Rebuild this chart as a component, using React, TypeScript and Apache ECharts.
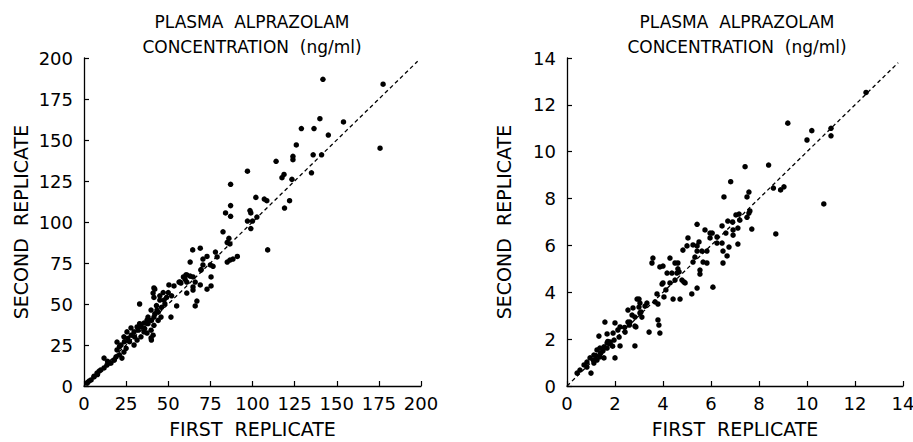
import React, { useEffect, useRef } from "react";
import * as echarts from "echarts";

const titleLines = ["PLASMA  ALPRAZOLAM", "CONCENTRATION  (ng/ml)"];
const xName = "FIRST  REPLICATE";
const yName = "SECOND  REPLICATE";

const leftRange = { min: 0, max: 200, interval: 25 };
const rightRange = { min: 0, max: 14, interval: 2 };

const leftIdentity = [[0, 0], [198, 198]];
const rightIdentity = [[0, 0], [13.8, 13.8]];

const leftPoints = [
  [141.8, 187], [177.5, 184], [175.7, 145], [154, 161], [140, 163], [129, 157], [136.5, 157], [145, 153],
  [126, 147], [124, 140], [124, 138], [136, 141], [141, 141], [114, 137], [97, 131], [118.7, 129],
  [117.5, 127], [123.4, 126], [135, 130], [87, 123],
  [102, 115], [107, 114], [108.5, 113], [122, 113], [119, 108.5], [87, 110], [84, 105.5], [87, 103.5],
  [98.5, 107], [99, 105.5], [102.6, 103], [97, 100.6], [100, 100.6], [99, 96], [82.5, 94], [86, 90],
  [86.6, 86.6], [85, 87.5], [109, 83],
  [64.5, 83], [69, 84], [78, 81.7], [79, 78.7], [73, 79], [70.6, 77.4], [63, 75.6], [70.6, 73.8], [75, 73.8],
  [76.6, 73], [85, 75.6], [88.4, 77.4], [91, 79], [86.6, 76.8],
  [59, 66.5], [61, 67.7], [63, 67], [64.7, 66.5], [75.4, 66.5], [57, 63.4], [61, 63.4], [66, 63.4],
  [64.7, 60.4], [69, 61.6], [61, 56.7], [64.7, 58.5], [73, 59], [69.5, 71],
  [50.4, 61.6], [56.4, 63.4], [60, 65], [67, 51.8], [66, 48.8], [42, 59], [41, 56.7], [33, 50], [55, 48.8],
  [51.6, 42], [45, 52.4], [49, 54],
  [60.5, 67.7], [69.4, 70.7], [75.4, 61], [53.4, 61], [57.5, 62.8], [41.5, 59.8], [41.5, 54], [47.5, 52.4],
  [39.8, 46.3], [43.3, 46.3], [45.7, 42], [41.5, 42], [37.4, 40.2], [35.6, 38.4], [31.5, 36], [27.9, 35.4],
  [25.5, 33], [29.7, 33], [35.6, 33], [37.4, 32.3], [39.8, 29.3], [23.7, 30], [19.6, 26.8], [22, 25],
  [31.5, 28], [33.8, 30], [29.7, 25], [19.6, 22], [23.7, 20.7], [19, 17.7], [22.5, 17], [11.9, 17],
  [13.6, 12.8], [11.9, 11], [10, 9.8], [7.7, 7.9], [5.9, 5.5], [4.2, 3.7], [1.8, 1.8], [16, 14],
  [17.8, 15.8], [39.8, 34], [41.5, 37],
  [21, 24], [24, 27], [26, 29], [28, 31], [30, 30], [32, 34], [34, 36], [36, 35], [38, 38], [40, 40],
  [42, 44], [44, 45], [46, 48], [48, 50], [43, 49], [45, 55], [47, 57], [50, 57], [52, 55], [44, 40],
  [38, 42], [33, 38], [27, 27], [25, 23], [21, 19], [18, 16], [15, 14], [14, 15], [9, 9], [8, 7],
  [6, 6], [3, 3], [2, 2], [41, 31], [40, 28],
];

const rightPoints = [
  [12.46, 12.53], [9.2, 11.22], [10.2, 10.9], [11, 11], [10, 10.5], [11, 10.68], [7.42, 9.36], [8.4, 9.43],
  [6.82, 8.72], [9.04, 8.5], [8.6, 8.45], [8.9, 8.37], [10.7, 7.77], [7.58, 8.28], [7.5, 8.07], [6.54, 8.07],
  [7.62, 7.47], [7.58, 7.38], [7.04, 7.3], [7.17, 7.34], [7.5, 7.2], [7.2, 7.08], [6.9, 7.0], [6.7, 7.04],
  [5.42, 6.9], [6.46, 6.83], [6.92, 6.66], [7.12, 6.74], [7.7, 6.7], [5.75, 6.66], [5.96, 6.53], [6.05, 6.53],
  [6.62, 6.53], [6.92, 6.44], [8.7, 6.49], [6.25, 6.36], [5.96, 6.32], [5.04, 6.32], [5.5, 6.15], [6.25, 6.1],
  [6.46, 6.1], [5.0, 5.98], [5.25, 6.02], [5.42, 5.98], [7.12, 6.06], [6.75, 5.93], [4.83, 5.8], [5.42, 5.76],
  [5.62, 5.76], [5.83, 5.76], [6.5, 5.76], [6.67, 5.55], [5.33, 5.5], [5.67, 5.29], [5.83, 5.25], [6.5, 5.25],
  [4.29, 5.46], [5.25, 5.29], [4.0, 5.12], [4.5, 5.25], [4.62, 5.25], [5.54, 4.95], [5.54, 4.78], [4.17, 4.82],
  [4.37, 4.82], [4.67, 4.87], [4.79, 4.52], [4.92, 4.4], [4.5, 4.52], [4.29, 4.4], [4.0, 4.4], [5.42, 4.18],
  [6.08, 4.22],
  [5.2, 3.93], [3.58, 5.46], [3.54, 5.25], [3.87, 5.08], [4.12, 4.1], [4.62, 5.0], [4.58, 4.82], [3.75, 3.93],
  [4.04, 3.8], [4.42, 3.71], [4.71, 3.71], [3.67, 3.59], [3.79, 3.5], [2.92, 3.71], [3.04, 3.54], [3.33, 3.54],
  [3.25, 3.41], [2.75, 3.33], [2.71, 3.03], [2.83, 2.94], [3.04, 3.12], [3.12, 2.94], [2.54, 3.24], [3.79, 2.82],
  [3.83, 2.6], [3.42, 2.3], [3.87, 2.26], [1.58, 2.73], [2.0, 2.69], [2.21, 2.52], [2.12, 2.39], [1.67, 2.22],
  [1.33, 2.13], [1.92, 2.26], [2.42, 2.3], [2.87, 2.52], [2.62, 2.73],
  [3.0, 3.37], [3.08, 3.16], [2.54, 2.73], [2.83, 2.56], [2.17, 2.09], [1.79, 1.88], [1.96, 1.96], [1.67, 1.84],
  [1.54, 1.67], [1.67, 1.62], [1.37, 1.62], [2.83, 1.71], [2.21, 1.71], [1.25, 1.54], [2.0, 1.2], [1.12, 1.32],
  [0.96, 1.2], [1.25, 1.11], [0.83, 1.02], [1.12, 0.98], [0.71, 0.9], [0.83, 0.81], [1.0, 0.55], [0.54, 0.68],
  [0.42, 0.55], [1.37, 1.24], [1.54, 1.2], [3.0, 3.71], [3.96, 4.35], [4.87, 4.44],
  [1.1, 1.1], [1.2, 1.3], [1.4, 1.4], [1.5, 1.5], [1.8, 1.8], [1.9, 1.7], [1.7, 1.9], [2.4, 2.5], [2.6, 2.6],
];

const FONT = "DejaVu Sans";
const INK = "#000";

function axisCommon(range: { min: number; max: number; interval: number }, labelMargin: number) {
  return {
    type: "value",
    min: range.min,
    max: range.max,
    interval: range.interval,
    axisLine: { show: true, lineStyle: { color: INK, width: 1.3 } },
    axisTick: { show: true, inside: true, length: 5, lineStyle: { color: INK, width: 1.2 } },
    splitLine: { show: false },
    axisLabel: { color: INK, fontSize: 18, fontFamily: FONT, margin: labelMargin },
    nameTextStyle: { color: INK, fontSize: 19, fontFamily: FONT },
  };
}

export default function App() {
  const ref = useRef<HTMLDivElement>(null);
  useEffect(() => {
    if (!ref.current) return;
    const chart = echarts.init(ref.current, undefined, { renderer: "svg" });
    const titleGraphics: any[] = [];
    [252, 737].forEach((cx) => {
      titleLines.forEach((t, i) => {
        titleGraphics.push({
          type: "text",
          x: cx,
          y: i === 0 ? 22 : 47,
          style: {
            text: t,
            fill: INK,
            font: `17px "${FONT}"`,
            textAlign: "center",
            textVerticalAlign: "middle",
          },
        });
      });
    });
    const scatterStyle = { color: INK, opacity: 1 };
    chart.setOption({
      animation: false,
      backgroundColor: "#fff",
      textStyle: { fontFamily: FONT },
      graphic: titleGraphics,
      grid: [
        { left: 84, width: 337, top: 58, height: 328, outerBoundsMode: "none", containLabel: false },
        { left: 567, width: 336, top: 58, height: 328, outerBoundsMode: "none", containLabel: false },
      ],
      xAxis: [
        { ...axisCommon(leftRange, 8), gridIndex: 0, name: xName, nameLocation: "middle", nameGap: 33 },
        { ...axisCommon(rightRange, 8), gridIndex: 1, name: xName, nameLocation: "middle", nameGap: 33 },
      ],
      yAxis: [
        { ...axisCommon(leftRange, 11), gridIndex: 0, name: yName, nameLocation: "middle", nameGap: 54 },
        { ...axisCommon(rightRange, 11), gridIndex: 1, name: yName, nameLocation: "middle", nameGap: 54 },
      ],
      series: [
        {
          type: "line",
          xAxisIndex: 0,
          yAxisIndex: 0,
          data: leftIdentity,
          symbol: "none",
          lineStyle: { color: INK, width: 1.3, type: [4, 3] },
        },
        {
          type: "line",
          xAxisIndex: 1,
          yAxisIndex: 1,
          data: rightIdentity,
          symbol: "none",
          lineStyle: { color: INK, width: 1.3, type: [4, 3] },
        },
        {
          type: "scatter",
          xAxisIndex: 0,
          yAxisIndex: 0,
          data: leftPoints,
          symbol: "circle",
          symbolSize: 5.5,
          itemStyle: scatterStyle,
        },
        {
          type: "scatter",
          xAxisIndex: 1,
          yAxisIndex: 1,
          data: rightPoints,
          symbol: "circle",
          symbolSize: 5.5,
          itemStyle: scatterStyle,
        },
      ],
    });
    return () => chart.dispose();
  }, []);
  return (
    <div
      ref={ref}
      style={{ position: "fixed", left: 0, top: 0, width: 913, height: 442, background: "#fff" }}
    />
  );
}
